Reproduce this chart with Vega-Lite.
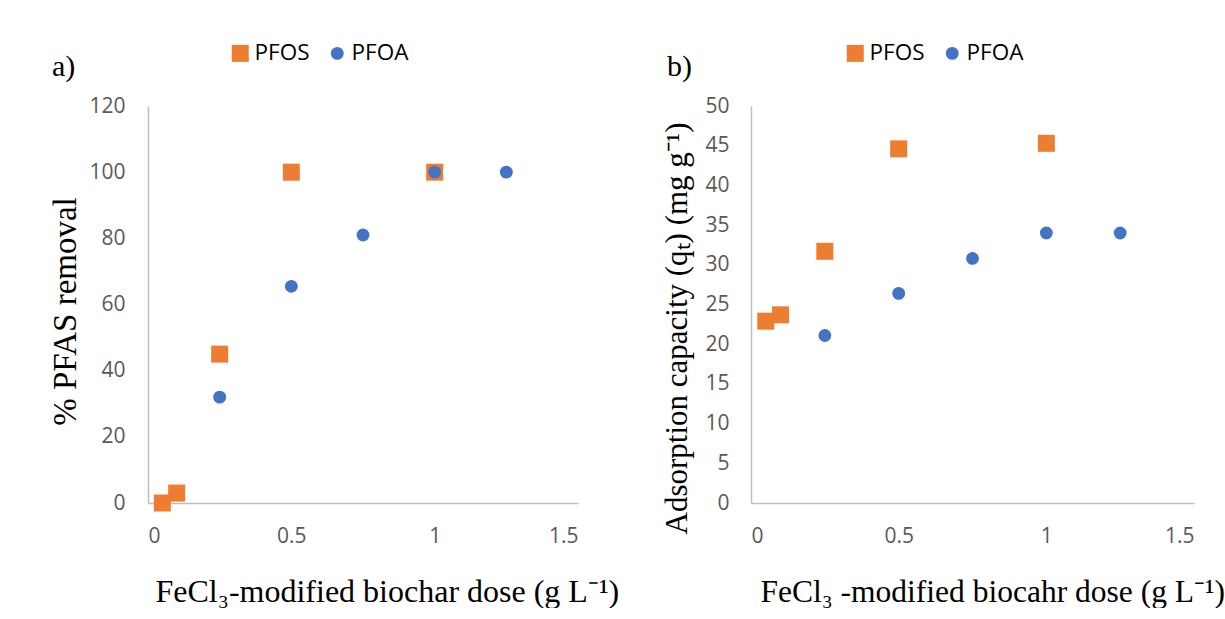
{
  "$schema": "https://vega.github.io/schema/vega-lite/v6.json",
  "background": "white",
  "padding": {"left": 49, "top": 42, "right": 0, "bottom": 0},
  "config": {
    "view": {"stroke": null},
    "axis": {
      "domainColor": "#bfbfbf", "domainWidth": 1.5, "ticks": false, "grid": false,
      "labelColor": "#595959", "labelFont": "Open Sans", "labelFontSize": 21,
      "titleFont": "Liberation Serif", "titleFontWeight": "normal", "titleColor": "black", "titleFontSize": 31
    },
    "legend": {
      "labelFont": "Open Sans", "labelFontSize": 22.5, "labelColor": "black",
      "padding": 0, "symbolOpacity": 1, "columnPadding": 16, "labelOffset": 3
    },
    "title": {"font": "Liberation Serif", "fontSize": 30, "fontWeight": "normal", "color": "black", "anchor": "start", "frame": "group"}
  },
  "datasets": {
    "a": [
      {"dose": 0.05, "value": 0, "compound": "PFOS"},
      {"dose": 0.1, "value": 3, "compound": "PFOS"},
      {"dose": 0.25, "value": 45, "compound": "PFOS"},
      {"dose": 0.5, "value": 100, "compound": "PFOS"},
      {"dose": 1, "value": 100, "compound": "PFOS"},
      {"dose": 0.25, "value": 32, "compound": "PFOA"},
      {"dose": 0.5, "value": 65.5, "compound": "PFOA"},
      {"dose": 0.75, "value": 81, "compound": "PFOA"},
      {"dose": 1, "value": 100, "compound": "PFOA"},
      {"dose": 1.25, "value": 100, "compound": "PFOA"}
    ],
    "b": [
      {"dose": 0.05, "value": 22.9, "compound": "PFOS"},
      {"dose": 0.1, "value": 23.7, "compound": "PFOS"},
      {"dose": 0.25, "value": 31.7, "compound": "PFOS"},
      {"dose": 0.5, "value": 44.6, "compound": "PFOS"},
      {"dose": 1, "value": 45.3, "compound": "PFOS"},
      {"dose": 0.25, "value": 21.1, "compound": "PFOA"},
      {"dose": 0.5, "value": 26.4, "compound": "PFOA"},
      {"dose": 0.75, "value": 30.8, "compound": "PFOA"},
      {"dose": 1, "value": 34.0, "compound": "PFOA"},
      {"dose": 1.25, "value": 34.0, "compound": "PFOA"}
    ]
  },
  "spacing": 41,
  "resolve": {
    "scale": {"x": "independent", "y": "independent", "color": "independent", "shape": "independent", "size": "independent"},
    "legend": {"color": "independent", "shape": "independent", "size": "independent"}
  },
  "hconcat": [
    {
      "width": 430, "height": 397,
      "title": {"text": "a)", "dx": -96, "dy": 64, "offset": 24},
      "data": {"name": "a"},
      "mark": {"type": "point", "filled": true, "opacity": 1, "clip": false},
      "encoding": {
        "x": {"field": "dose", "type": "quantitative",
          "scale": {"domain": [0, 1.5], "nice": false},
          "axis": {"values": [0, 0.5, 1, 1.5], "format": "~g", "labelPadding": 22,
            "title": "FeCl₃-modified biochar dose (g L⁻¹)", "titleFontSize": 32, "titlePadding": 30, "titleX": 7, "titleAlign": "left"}},
        "y": {"field": "value", "type": "quantitative",
          "scale": {"domain": [0, 120], "nice": false},
          "axis": {"values": [0, 20, 40, 60, 80, 100, 120], "labelPadding": 23,
            "title": "% PFAS removal", "titleFontSize": 33, "titleX": -66, "titleY": 205}},
        "color": {"field": "compound", "type": "nominal",
          "scale": {"domain": ["PFOS", "PFOA"], "range": ["#ED7D31", "#4472C4"]},
          "legend": {"orient": "none", "legendX": 81, "legendY": -64, "direction": "horizontal", "title": null}},
        "shape": {"field": "compound", "type": "nominal",
          "scale": {"domain": ["PFOS", "PFOA"], "range": ["square", "circle"]},
          "legend": {"orient": "none", "legendX": 81, "legendY": -64, "direction": "horizontal", "title": null}},
        "size": {"field": "compound", "type": "nominal",
          "scale": {"domain": ["PFOS", "PFOA"], "range": [289, 165]},
          "legend": {"orient": "none", "legendX": 81, "legendY": -64, "direction": "horizontal", "title": null}}
      }
    },
    {
      "width": 443, "height": 397,
      "title": {"text": "b)", "dx": -84, "dy": 64, "offset": 24},
      "data": {"name": "b"},
      "mark": {"type": "point", "filled": true, "opacity": 1, "clip": false},
      "encoding": {
        "x": {"field": "dose", "type": "quantitative",
          "scale": {"domain": [0, 1.5], "nice": false},
          "axis": {"values": [0, 0.5, 1, 1.5], "format": "~g", "labelPadding": 22,
            "title": "FeCl₃ -modified biocahr dose (g L⁻¹)", "titleFontSize": 31.5, "titlePadding": 30, "titleX": 9, "titleAlign": "left"}},
        "y": {"field": "value", "type": "quantitative",
          "scale": {"domain": [0, 50], "nice": false},
          "axis": {"values": [0, 5, 10, 15, 20, 25, 30, 35, 40, 45, 50], "labelPadding": 22,
            "title": "Adsorption capacity (qₜ) (mg g⁻¹)", "titleX": -58, "titleY": 222}},
        "color": {"field": "compound", "type": "nominal",
          "scale": {"domain": ["PFOS", "PFOA"], "range": ["#ED7D31", "#4472C4"]},
          "legend": {"orient": "none", "legendX": 93, "legendY": -64, "direction": "horizontal", "title": null}},
        "shape": {"field": "compound", "type": "nominal",
          "scale": {"domain": ["PFOS", "PFOA"], "range": ["square", "circle"]},
          "legend": {"orient": "none", "legendX": 93, "legendY": -64, "direction": "horizontal", "title": null}},
        "size": {"field": "compound", "type": "nominal",
          "scale": {"domain": ["PFOS", "PFOA"], "range": [289, 165]},
          "legend": {"orient": "none", "legendX": 93, "legendY": -64, "direction": "horizontal", "title": null}}
      }
    }
  ]
}
